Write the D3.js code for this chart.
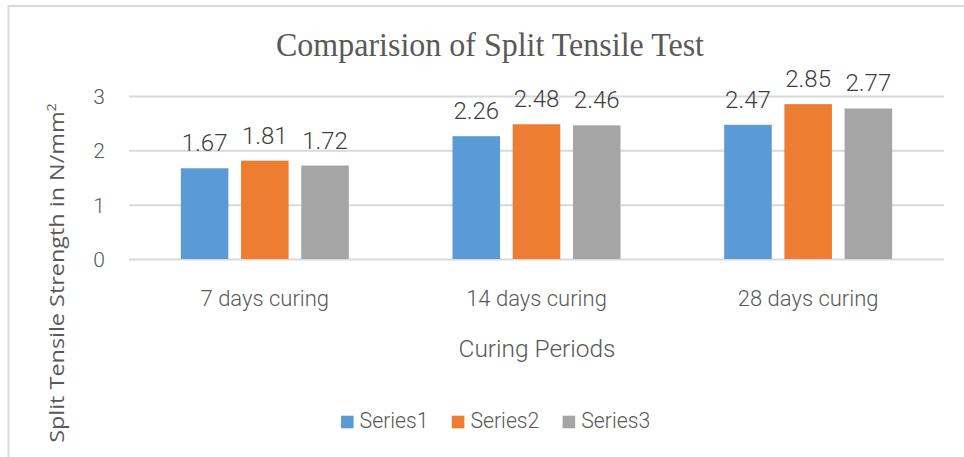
<!DOCTYPE html>
<html>
<head>
<meta charset="utf-8">
<script src="https://cdn.jsdelivr.net/npm/d3@7"></script>
<style>
  body { margin: 0; background: #fff; }
  svg { display: block; }
  text { font-weight: 300; }
</style>
</head>
<body>
<svg width="964" height="457"></svg>
<script>
const categories = ["7 days curing", "14 days curing", "28 days curing"];
const seriesNames = ["Series1", "Series2", "Series3"];
const series1 = [1.67, 2.26, 2.47];
const series2 = [1.81, 2.48, 2.85];
const series3 = [1.72, 2.46, 2.77];
const yTicks = [0, 1, 2, 3];
const colors = ["#5B9BD5", "#ED7D31", "#A5A5A5"];

const seriesValues = [series1, series2, series3];

const svg = d3.select("svg");
const width = +svg.attr("width");
const height = +svg.attr("height");

const plot = { left: 129, right: 944, top: 96, bottom: 259 };

// chart border (only top and left edges visible)
svg.append("rect")
	.attr("x", 8.5)
	.attr("y", 6)
	.attr("width", width + 20)
	.attr("height", height + 20)
	.attr("fill", "#fff")
	.attr("stroke", "#d9d9d9")
	.attr("stroke-width", 2);

const y = d3.scaleLinear()
	.domain([0, 3])
	.range([plot.bottom, plot.top]);

const x0 = d3.scaleBand()
	.domain(categories)
	.range([plot.left, plot.right])
	.paddingInner(0.3816)
	.paddingOuter(0.1908);

const x1 = d3.scaleBand()
	.domain(seriesNames)
	.range([0, x0.bandwidth()])
	.paddingInner(0.21);

// y axis + gridlines
const yAxis = svg.append("g")
	.attr("transform", `translate(${plot.left}, 0)`)
	.call(d3.axisLeft(y)
		.tickValues(yTicks)
		.tickFormat(d3.format("d"))
		.tickSize(-(plot.right - plot.left))
		.tickPadding(24));

yAxis.select(".domain").remove();
yAxis.selectAll(".tick line")
	.attr("stroke", "#d9d9d9")
	.attr("stroke-width", 2);
yAxis.selectAll(".tick text")
	.attr("fill", "#595959")
	.attr("font-family", "Roboto")
	.attr("font-size", 21)
	.attr("dy", "0.36em");

// x axis labels
const xAxis = svg.append("g")
	.attr("transform", `translate(0, ${plot.bottom})`)
	.call(d3.axisBottom(x0).tickSize(0));

xAxis.select(".domain").remove();
xAxis.selectAll(".tick text")
	.attr("fill", "#595959")
	.attr("font-family", "Roboto")
	.attr("font-size", 22)
	.attr("dy", null)
	.attr("y", 47);

// bars
const groups = svg.append("g")
	.selectAll("g")
	.data(categories)
	.join("g")
		.attr("transform", d => `translate(${x0(d)}, 0)`);

const barData = (c, i) => seriesNames.map((s, j) => ({ s, j, v: seriesValues[j][i] }));

groups.selectAll("rect")
	.data(barData)
	.join("rect")
		.attr("x", d => x1(d.s))
		.attr("y", d => y(d.v))
		.attr("width", x1.bandwidth())
		.attr("height", d => y(0) - y(d.v))
		.attr("fill", d => colors[d.j]);

groups.selectAll("text")
	.data(barData)
	.join("text")
		.attr("x", d => x1(d.s) + x1.bandwidth() / 2)
		.attr("y", d => y(d.v) - 17)
		.attr("text-anchor", "middle")
		.attr("font-family", "Roboto")
		.attr("font-size", 24)
		.attr("fill", "#404040")
		.text(d => d.v.toFixed(2));

// title
svg.append("text")
	.attr("x", 490)
	.attr("y", 56)
	.attr("text-anchor", "middle")
	.attr("font-family", "Liberation Serif, Times New Roman, serif")
	.attr("font-size", 34)
	.style("font-weight", 400)
	.attr("fill", "#595959")
	.attr("textLength", 428)
	.attr("lengthAdjust", "spacingAndGlyphs")
	.text("Comparision of Split Tensile Test");

// x axis title
svg.append("text")
	.attr("x", 537)
	.attr("y", 357)
	.attr("text-anchor", "middle")
	.attr("font-family", "Roboto")
	.attr("font-size", 24.5)
	.attr("fill", "#595959")
	.attr("textLength", 157)
	.attr("lengthAdjust", "spacingAndGlyphs")
	.text("Curing Periods");

// y axis title
const yTitle = svg.append("g")
	.attr("transform", `translate(64, 273) rotate(-90)`);

const yTitleText = yTitle.append("text")
	.attr("text-anchor", "middle")
	.attr("font-family", "Open Sans")
	.attr("font-size", 19.5)
	.style("font-weight", 400)
	.attr("fill", "#595959");

yTitleText.append("tspan").text("Split Tensile Strength in N/mm");
yTitleText.append("tspan")
	.attr("font-size", 12)
	.attr("dy", -8)
	.text("2");

const yTitleLen = yTitleText.node().getBBox().width;
yTitleText.attr("transform", `scale(${340 / yTitleLen}, 1)`);

// legend
const legend = svg.append("g")
	.attr("transform", "translate(341, 0)");

const legendItems = legend.selectAll("g")
	.data(seriesNames)
	.join("g")
		.attr("transform", (d, i) => `translate(${i * 110.8}, 0)`);

legendItems.append("rect")
	.attr("x", 0)
	.attr("y", 415.7)
	.attr("width", 12.6)
	.attr("height", 12.6)
	.attr("fill", (d, i) => colors[i]);

legendItems.append("text")
	.attr("x", 18.6)
	.attr("y", 428.3)
	.attr("font-family", "Roboto")
	.attr("font-size", 22.5)
	.attr("fill", "#595959")
	.attr("textLength", 69)
	.attr("lengthAdjust", "spacingAndGlyphs")
	.text(d => d);
</script>
</body>
</html>
